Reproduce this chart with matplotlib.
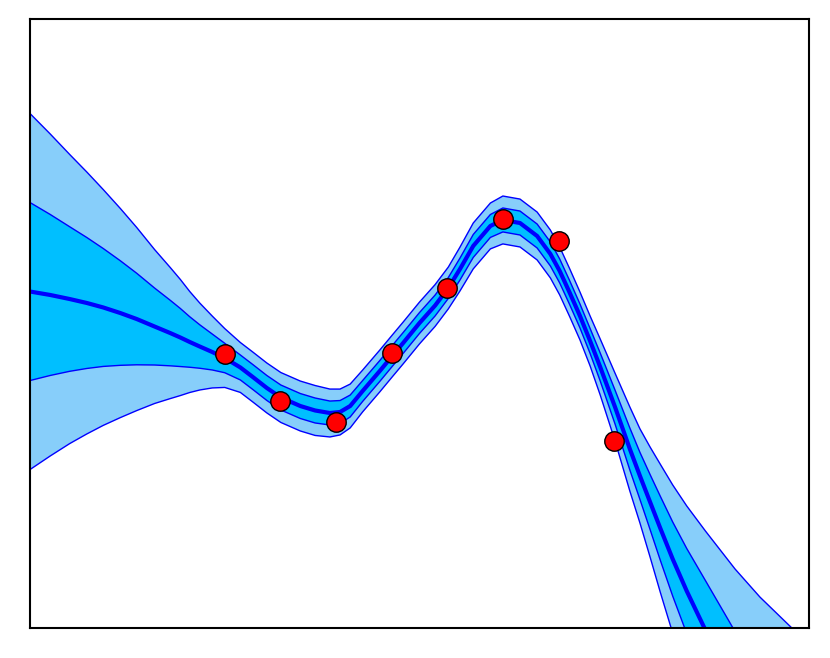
import numpy as np
import matplotlib
matplotlib.use('Agg')
import matplotlib.pyplot as plt

# Posterior mean / std at a set of x positions
x_grid = [-5.00, -4.74, -4.49, -4.27, -4.06, -3.84, -3.63, -3.40, -3.20, -3.07,
          -2.95, -2.82, -2.66, -2.50, -2.30, -2.14, -1.96, -1.78, -1.53, -1.34,
          -1.15, -1.02, -0.89, -0.73, -0.51, -0.35, -0.21, 0.00, 0.20, 0.37,
          0.52, 0.69, 0.91, 1.07, 1.29, 1.51, 1.68, 1.80, 1.93, 2.06,
          2.19, 2.32, 2.51, 2.70, 2.83, 2.96, 3.09, 3.25, 3.43, 3.67,
          3.86, 4.05, 4.37, 4.78, 5.00]
mean = [0.315, 0.281, 0.241, 0.202, 0.158, 0.103, 0.044, -0.030, -0.094, -0.138,
        -0.182, -0.227, -0.281, -0.340, -0.433, -0.527, -0.635, -0.729, -0.813, -0.857,
        -0.882, -0.872, -0.813, -0.665, -0.468, -0.320, -0.192, 0.005, 0.177, 0.350,
        0.537, 0.764, 0.961, 1.020, 0.990, 0.862, 0.685, 0.517, 0.300, 0.074,
        -0.172, -0.429, -0.823, -1.236, -1.502, -1.759, -2.015, -2.320, -2.635, -3.020,
        -3.335, -3.650, -4.163, -4.754, -5.059]
std = [0.877, 0.793, 0.712, 0.645, 0.581, 0.515, 0.451, 0.379, 0.323, 0.286,
       0.249, 0.214, 0.177, 0.145, 0.123, 0.123, 0.123, 0.123, 0.123, 0.123,
       0.118, 0.113, 0.108, 0.103, 0.103, 0.103, 0.103, 0.103, 0.103, 0.103,
       0.108, 0.113, 0.113, 0.118, 0.118, 0.118, 0.118, 0.118, 0.118, 0.118,
       0.123, 0.138, 0.167, 0.207, 0.232, 0.271, 0.315, 0.365, 0.419, 0.488,
       0.552, 0.616, 0.734, 0.877, 0.946]

# Observations
x_obs = [-2.5, -1.786, -1.071, -0.357, 0.357, 1.071, 1.786, 2.5]
y_obs = [-0.303, -0.764, -0.967, -0.288, 0.353, 1.030, 0.813, -1.158]

if __name__ == '__main__':
    x = np.array(x_grid)
    m = np.array(mean)
    s = np.array(std)

    fig = plt.figure(figsize=(8.3, 6.58), dpi=100)
    ax = fig.add_axes([30/830, 30/658, 779/830, 609/658])

    # Confidence bands
    ax.fill_between(x, m - 2*s, m + 2*s, color='lightskyblue', lw=0)
    ax.fill_between(x, m - s, m + s, color='deepskyblue', lw=0)
    for k in (-2, -1, 1, 2):
        ax.plot(x, m + k*s, color='blue', lw=1)

    # Mean and data
    ax.plot(x, m, color='blue', lw=3)
    ax.plot(x_obs, y_obs, 'o', color='red', markeredgecolor='black',
            markeredgewidth=1, markersize=14, zorder=5)

    ax.set_xlim(-5, 5)
    ax.set_ylim(-3, 3)
    ax.set_xticks([])
    ax.set_yticks([])
    for sp in ax.spines.values():
        sp.set_linewidth(1.5)

    fig.savefig('out.png', dpi=100)
